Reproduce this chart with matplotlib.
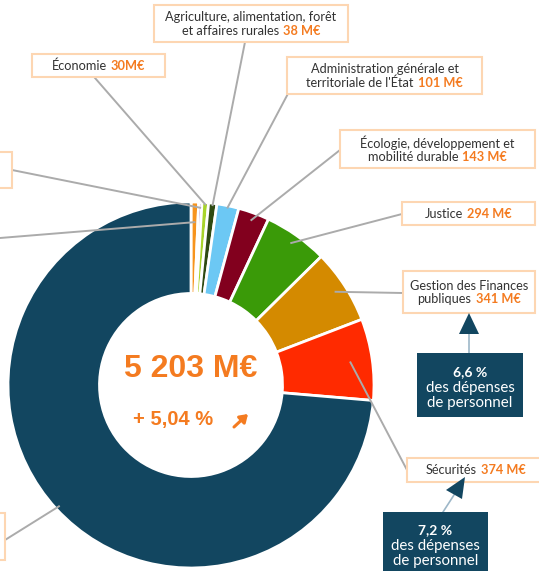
import numpy as np
import matplotlib.pyplot as plt
from matplotlib.patches import Rectangle, Polygon
from matplotlib.offsetbox import TextArea, HPacker, VPacker, AnnotationBbox

# données (M€), dans l'ordre horaire à partir de midi
categories = ["(gauche, masqué 1)", "(gauche, masqué 2)", "Économie",
              "Agriculture, alimentation, forêt et affaires rurales",
              "Administration générale et territoriale de l'État",
              "Écologie, développement et mobilité durable",
              "Justice", "Gestion des Finances publiques", "Sécurités",
              "(bas gauche, masqué)"]
values = [35, 15, 30, 38, 101, 143, 294, 341, 374, 3832]
colors = ["#F7941D", "#8C62B4", "#A8D42A", "#2E4A12", "#6CC8F4",
          "#82001E", "#3A9A08", "#D48A00", "#FF2A00", "#124660"]
total = "5 203 M€"
evolution = "+ 5,04 %"
part_labels = ["6,6 %", "7,2 %"]

ORANGE = "#F47B20"
GREY = "#333333"
NAVY = "#124660"
BOXEDGE = "#FDD6B2"
LINE = "#ABABAB"

plt.rcParams["font.family"] = ["Lato", "DejaVu Sans"]

fig = plt.figure(figsize=(5.39, 5.71), dpi=100)
ax = fig.add_axes([0, 0, 1, 1])

cx, cy, R = 191, 385, 183
wedges, _ = ax.pie(values, colors=colors, startangle=-90, counterclock=True,
                   radius=R, center=(cx, cy),
                   wedgeprops=dict(width=R * 0.5, edgecolor="white", linewidth=2))
ax.set_xlim(0, 539)
ax.set_ylim(571, 0)
ax.set_aspect("equal")
ax.axis("off")

# points d'accroche des traits dans les secteurs
anchor = [0.89, 0.97, 0.99, 0.99, 0.99, 0.96, 0.95, 0.94, 0.88, 0.98]
box_end = [(0, 238), (12, 170), (95, 78), (245, 42), (291, 88), (340, 150),
           (402, 214), (403, 293), (407, 470), (5, 540)]
for w, f, (bx, by) in zip(wedges, anchor, box_end):
    th = np.deg2rad((w.theta1 + w.theta2) / 2)
    px, py = cx + f * R * np.cos(th), cy + f * R * np.sin(th)
    ax.plot([bx, px], [by, py], color=LINE, lw=1.4, zorder=5)

# cadres des étiquettes (x0, y0, x1, y1)
frames = {
    1: (-100, 152, 12, 188),
    2: (32, 54, 165, 77),
    3: (154, 5, 348, 42),
    4: (287, 57, 482, 94),
    5: (340, 130, 535, 168),
    6: (402, 202, 535, 225),
    7: (403, 271, 535, 313),
    8: (407, 458, 545, 482),
    9: (-100, 513, 5, 560),
}
texts = {
    2: ["Économie"],
    3: ["Agriculture, alimentation, forêt", "et affaires rurales"],
    4: ["Administration générale et", "territoriale de l'État"],
    5: ["Écologie, développement et", "mobilité durable"],
    6: ["Justice"],
    7: ["Gestion des Finances", "publiques"],
    8: ["Sécurités"],
}
FS = 9.2
for i, (x0, y0, x1, y1) in frames.items():
    ax.add_patch(Rectangle((x0, y0), x1 - x0, y1 - y0, facecolor="white",
                           edgecolor=BOXEDGE, lw=1.5, zorder=6))
    if i not in texts:
        continue
    lines = texts[i]
    val = f"{values[i]}M€" if i == 2 else f"{values[i]} M€"
    tp = dict(color=GREY, fontsize=FS)
    rows = [TextArea(s, textprops=tp) for s in lines[:-1]]
    rows.append(HPacker(children=[TextArea(lines[-1], textprops=tp),
                                  TextArea(val, textprops=dict(color=ORANGE, fontsize=FS,
                                                               fontweight="bold"))],
                        sep=3, pad=0, align="baseline"))
    pack = VPacker(children=rows, sep=1, pad=0, align="center")
    ab = AnnotationBbox(pack, ((x0 + x1) / 2, (y0 + y1) / 2 + 0.5), frameon=False,
                        box_alignment=(0.5, 0.5), zorder=7)
    ax.add_artist(ab)

# encarts "dépenses de personnel"
callouts = [
    dict(rect=(417, 353, 523, 417), tri=[(469, 313), (459, 334), (479, 334)],
         stem=[(469, 334), (469, 353)], txt=part_labels[0], ty=372),
    dict(rect=(383, 512, 488, 590), tri=[(465, 477), (446, 490), (462, 499)],
         stem=[(454, 495), (443, 512)], txt=part_labels[1], ty=530),
]
for c in callouts:
    x0, y0, x1, y1 = c["rect"]
    (sx0, sy0), (sx1, sy1) = c["stem"]
    ax.plot([sx0, sx1], [sy0, sy1], color="#9DB7C8", lw=1.2, zorder=6)
    ax.add_patch(Polygon(c["tri"], closed=True, facecolor=NAVY, edgecolor="none", zorder=7))
    ax.add_patch(Rectangle((x0, y0), x1 - x0, y1 - y0, facecolor=NAVY,
                           edgecolor="none", zorder=7))
    xm = (x0 + x1) / 2
    ax.text(xm, c["ty"], c["txt"], color="white", fontsize=10, fontweight="bold",
            ha="center", va="center", zorder=8)
    ax.text(xm, c["ty"] + 16, "des dépenses", color="white", fontsize=10.8,
            ha="center", va="center", zorder=8)
    ax.text(xm, c["ty"] + 31, "de personnel", color="white", fontsize=10.8,
            ha="center", va="center", zorder=8)

# centre du donut
ax.text(cx, 369, total, color=ORANGE, fontsize=23, fontweight="bold",
        family="Liberation Sans", ha="center", va="center")
ax.text(173, 420, evolution, color=ORANGE, fontsize=14.5, fontweight="bold",
        family="Liberation Sans", ha="center", va="center")
ax.annotate("", xy=(248, 414), xytext=(234, 427),
            arrowprops=dict(arrowstyle="-|>,head_length=0.45,head_width=0.3",
                            color=ORANGE, lw=2.2, shrinkA=0, shrinkB=0))

fig.savefig("out.png", dpi=100)
